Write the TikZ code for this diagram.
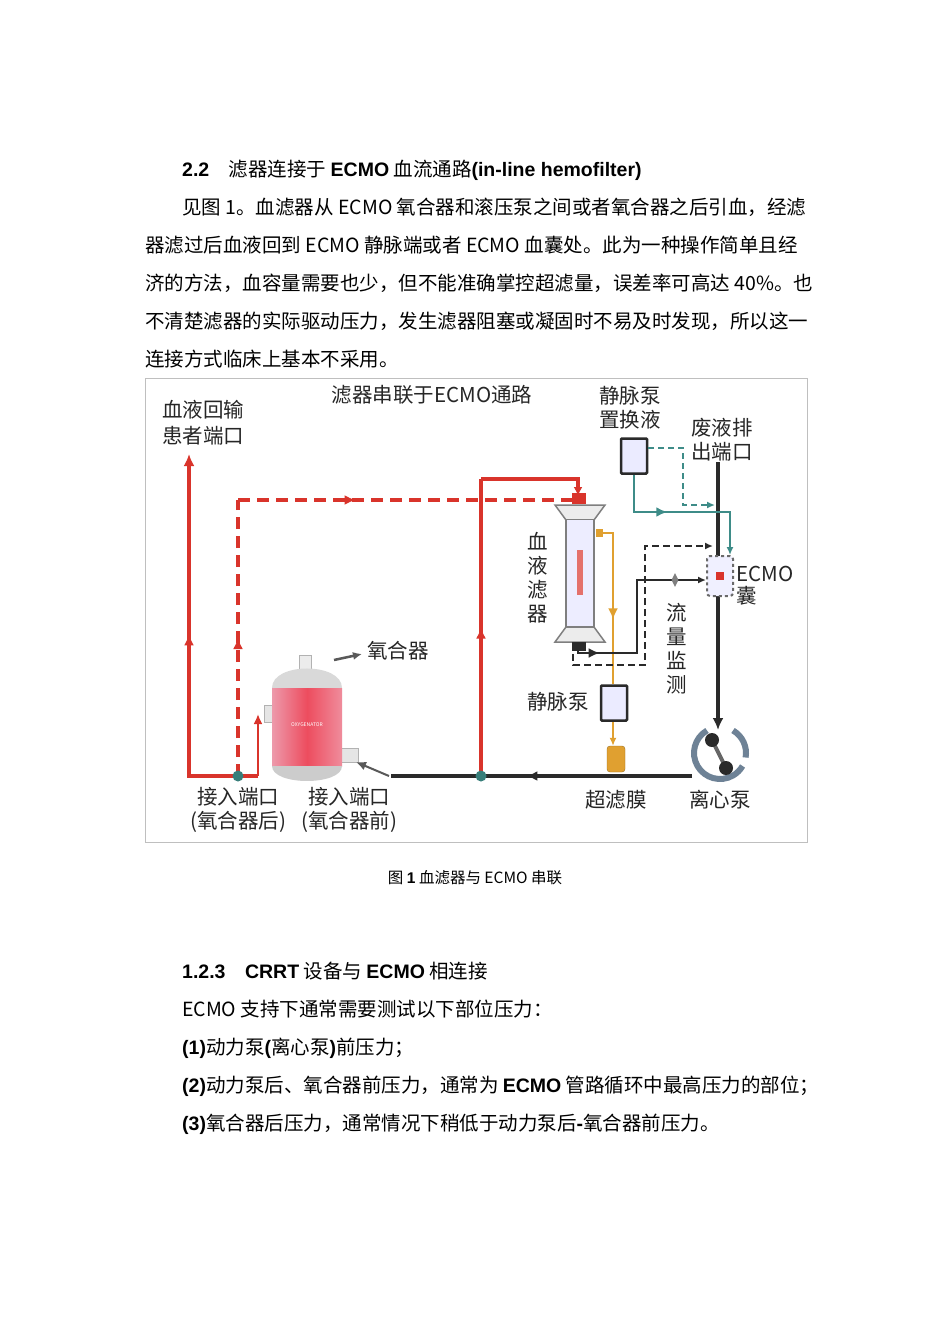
\documentclass[tikz,border=0pt]{standalone}
\usepackage{fontspec}
\setmainfont{Noto Sans CJK SC}
\newfontfamily\lat{Liberation Sans}
\usetikzlibrary{arrows.meta,decorations.markings,shapes.geometric}
\definecolor{rd}{HTML}{D9342B}
\definecolor{tl}{HTML}{3E8C88}
\definecolor{og}{HTML}{E0A030}
\definecolor{dk}{HTML}{2A2A2A}
\definecolor{ring}{HTML}{6E8296}
\tikzset{
 txt/.style={anchor=base west,inner sep=0pt,font=\fontsize{19.5}{22}\selectfont},
 lab/.style={inner sep=0pt,font=\fontsize{20.5}{24}\selectfont,text=black!85},
 midarr/.style={postaction={decorate},decoration={markings,mark=at position #1 with {\arrow{Latex[length=11pt,width=10pt]}}}},
 red line/.style={rd,line width=4pt},
 red dash/.style={rd,line width=4pt,dash pattern=on 12pt off 7pt},
 blk/.style={dk,line width=4pt},
 pumpbox/.style={draw=dk,line width=2.5pt,fill=blue!8,rounded corners=1pt,minimum width=26pt,minimum height=35pt},
}
\begin{document}
\begin{tikzpicture}[x=1pt,y=-1pt]
\useasboundingbox[fill=white] (0,0) rectangle (950,1344);
% text above
\node[txt] (h1) at (182,176) {{\lat\bfseries 2.2}\quad 滤器连接于 {\lat\bfseries ECMO} 血流通路{\lat\bfseries(in-line hemofilter)}};
\node[txt] (p1) at (182,214) {见图 1。血滤器从 ECMO 氧合器和滚压泵之间或者氧合器之后引血，经滤};
\node[txt] (p2) at (145,252) {器滤过后血液回到 ECMO 静脉端或者 ECMO 血囊处。此为一种操作简单且经};
\node[txt] (p3) at (145,290) {济的方法，血容量需要也少，但不能准确掌控超滤量，误差率可高达 40\%。也};
\node[txt] (p4) at (145,328) {不清楚滤器的实际驱动压力，发生滤器阻塞或凝固时不易及时发现，所以这一};
\node[txt] (p5) at (145,366) {连接方式临床上基本不采用。};
% frame
\node[draw=black!25,line width=0.6pt,minimum width=662pt,minimum height=464pt,inner sep=0pt] (frame) at (476,610) {};
\node[lab] (title) at (432,395) {滤器串联于ECMO通路};
\node[lab,align=left,anchor=north west] (ret) at (162,400) {血液回输\\[2pt]患者端口};
% coordinates
\coordinate (bl) at (189,776);
\coordinate (tl1) at (189,462);
\coordinate (oxo) at (258,776);
\coordinate (d1) at (238,776);
\coordinate (d2) at (238,500);
\coordinate (d3) at (574,500);
\coordinate (m1) at (481,776);
\coordinate (m2) at (481,479);
\coordinate (m3) at (578,479);
\coordinate (m4) at (578,496);
% red lines
\draw[red line,midarr=0.55] (oxo) -- (bl) -- (tl1);
\draw[red line,-{Latex[length=12pt,width=11pt]}] (tl1) -- ++(0,-8);
\draw[red line,line width=2.5pt,-{Latex[length=10pt,width=9pt]}] (258,776) -- (258,714);
\draw[red dash,midarr=0.5] (d1) -- (d2);
\draw[red dash,midarr=0.35] (d2) -- (d3);
\draw[red line,midarr=0.5] (m1) -- (m2);
\draw[red line,-{Latex[length=9pt,width=9pt]}] (m2) -- (m3) -- (m4);
% black main line
\coordinate (pumpin) at (718,462);
\coordinate (pumptop) at (718,730);
\draw[blk,-{Latex[length=12pt,width=11pt]}] (pumpin) -- (pumptop);
\coordinate (b1) at (692,776);
\coordinate (b2) at (391,776);
\draw[blk,midarr=0.55] (b1) -- (b2);
\fill[tl!90!black] (d1) circle (5.5pt) (m1) circle (5.5pt);
% pump
\node[circle,minimum size=56pt,inner sep=0pt] (pump) at (720,753) {};
\draw[ring,line width=6pt] (pump.center) ++(120:26pt) arc (120:330:26pt);
\draw[ring,line width=6pt] (pump.center) ++(350:26pt) arc (350:420:26pt);
\draw[black!60,line width=4pt] (712,740) -- (726,768);
\fill[dk] (712,740) circle (7pt) (726,768) circle (7pt);
\node[lab] (pumpl) at (720,800) {离心泵};
% ECMO bag
\node[draw=dk!70,dashed,line width=2pt,fill=blue!6,rounded corners=3pt,minimum width=26pt,minimum height=40pt,inner sep=0pt] (bag) at (720,576) {};
\fill[rd] (716,572) rectangle (724,580);
\node[lab,anchor=west,align=left] (bagl) at (736,586) {ECMO\\[-2pt]囊};
% hemofilter
\draw[dk!60,fill=gray!15,line width=1.5pt] (555,505)--(605,505)--(594,520)--(566,520)--cycle;
\draw[dk!60,fill=gray!15,line width=1.5pt] (555,642)--(605,642)--(594,627)--(566,627)--cycle;
\node[draw=dk!60,line width=1.5pt,fill=blue!7,minimum width=28pt,minimum height=107pt,inner sep=0pt] (filt) at (580,573) {};
\fill[rd!70] (577,550) rectangle (583,595);
\fill[rd] (572,493) rectangle (586,504);
\fill[dk] (572,642) rectangle (586,651);
\fill[og] (596,529) rectangle (603,537);
\node[lab,align=center] (filtl) at (538,578) {血\\液\\滤\\器};
% orange line
\node[pumpbox] (vp) at (614,703) {};
\node[draw=og!70!black,fill=og,rounded corners=3pt,minimum width=18pt,minimum height=26pt,inner sep=0pt] (uf) at (616,759) {};
\draw[og,line width=2pt,midarr=0.6] (602,533) -- (613,533) -- (vp.north -| 613,0);
\draw[og,line width=2pt,-{Latex[length=8pt,width=7pt]}] (vp.south -| 613,0) -- (uf.north -| 613,0);
\node[lab] (vpl) at (558,702) {静脉泵};
\node[lab] (ufl) at (616,800) {超滤膜};
% top pump
\node[pumpbox] (tp) at (634,456) {};
\node[lab,align=center] (tpl) at (630,408) {静脉泵\\置换液};
\node[lab,align=left] (wl) at (722,440) {废液排\\出端口};
\draw[tl,line width=2.5pt,midarr=0.4,-{Latex[length=8pt,width=7pt]}] (tp.south) |- (730,512) -- (bag.north -| 730,0);
\draw[tl,line width=2.5pt,dash pattern=on 6pt off 4pt,-{Latex[length=8pt,width=7pt]}] (tp.east |- 0,448) -| (683,505) -- (715,505);
% black dashed loop
\draw[dk,line width=2.5pt,dash pattern=on 7pt off 4pt,-{Latex[length=8pt,width=7pt]}] (573,643) -- (573,665) -- (645,665) -- (645,546) -- (713,546);
% black solid flow monitoring
\draw[dk,line width=2.5pt,midarr=0.15,-{Latex[length=8pt,width=7pt]}] (578,643) -- (578,653) -- (637,653) -- (637,580) -- (bag.west |- 0,580);
\node[diamond,fill=dk!60,minimum width=7pt,minimum height=14pt,inner sep=0pt] (dia) at (675,580) {};
\node[lab,align=center] (flow) at (677,649) {流\\量\\监\\测};
% oxygenator
\draw[gray!60,fill=gray!15] (299,655) rectangle (311,672);
\draw[gray!60,fill=gray!20] (264,705) rectangle (280,722);
\draw[gray!60,fill=gray!20] (340,748) rectangle (358,762);
\fill[left color=red!30!purple!40,right color=red!45!purple!45,middle color=red!60!purple!70] (272,688) rectangle (342,766);
\fill[gray!30] (272,688) .. controls (272,662) and (342,662) .. (342,688) -- cycle;
\fill[gray!40] (272,766) .. controls (272,786) and (342,786) .. (342,766) -- cycle;
\node[inner sep=0pt,minimum width=70pt,minimum height=120pt] (oxy) at (307,723) {};
\node[font=\tiny,text=white] (oxyt) at (307,725) {OXYGENATOR};
\node[lab] (oxyl) at (398,651) {氧合器};
\draw[gray!70!black,line width=2.5pt,-{Latex[length=9pt,width=8pt]}] (334,660) -- (362,654);
\draw[gray!70!black,line width=2pt,-{Latex[length=10pt,width=9pt]}] (389,776) -- (356,762);
\node[lab,align=center] (p1l) at (238,810) {接入端口\\(氧合器后)};
\node[lab,align=center] (p2l) at (349,810) {接入端口\\(氧合器前)};
% caption
\node[inner sep=0pt,font=\fontsize{15.5}{18}\selectfont] (cap) at (475,878) {图 {\lat\bfseries 1} 血滤器与 ECMO 串联};
% text below
\node[txt] (h2) at (182,978) {{\lat\bfseries 1.2.3}\quad {\lat\bfseries CRRT} 设备与 {\lat\bfseries ECMO} 相连接};
\node[txt] (q1) at (182,1016) {ECMO 支持下通常需要测试以下部位压力：};
\node[txt] (q2) at (182,1054) {{\lat\bfseries(1)}动力泵{\lat\bfseries(}离心泵{\lat\bfseries)}前压力；};
\node[txt] (q3) at (182,1092) {{\lat\bfseries(2)}动力泵后、氧合器前压力，通常为 {\lat\bfseries ECMO} 管路循环中最高压力的部位；};
\node[txt] (q4) at (182,1130) {{\lat\bfseries(3)}氧合器后压力，通常情况下稍低于动力泵后{\lat\bfseries -}氧合器前压力。};
\end{tikzpicture}
\end{document}
